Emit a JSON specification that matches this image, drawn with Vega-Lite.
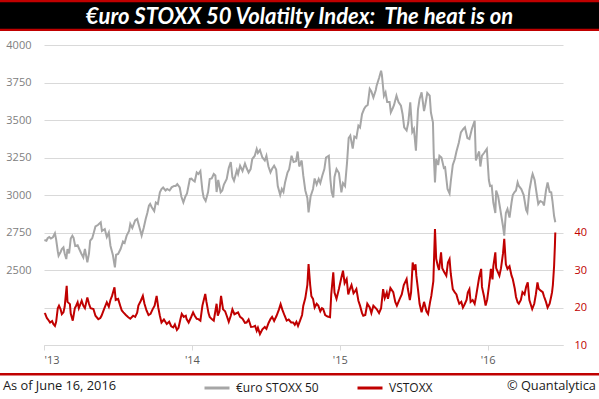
{
  "$schema": "https://vega.github.io/schema/vega-lite/v6.json",
  "padding": 0,
  "autosize": {"type": "pad"},
  "background": "white",
  "spacing": 8,
  "config": {"view": {"stroke": null}},
  "datasets": {
    "stoxx": [
      {"date":"2013-01-02","value":2700},{"date":"2013-01-07","value":2695},{"date":"2013-01-10","value":2712},{"date":"2013-01-14","value":2720},{"date":"2013-01-18","value":2710},{"date":"2013-01-23","value":2718},{"date":"2013-01-28","value":2745},{"date":"2013-01-31","value":2703},
      {"date":"2013-02-04","value":2625},{"date":"2013-02-06","value":2595},{"date":"2013-02-11","value":2620},{"date":"2013-02-14","value":2640},{"date":"2013-02-18","value":2651},{"date":"2013-02-21","value":2610},{"date":"2013-02-25","value":2573},{"date":"2013-02-28","value":2640},
      {"date":"2013-03-04","value":2610},{"date":"2013-03-08","value":2710},{"date":"2013-03-12","value":2729},{"date":"2013-03-15","value":2715},{"date":"2013-03-19","value":2660},{"date":"2013-03-25","value":2665},{"date":"2013-03-29","value":2640},
      {"date":"2013-04-03","value":2610},{"date":"2013-04-08","value":2584},{"date":"2013-04-12","value":2640},{"date":"2013-04-18","value":2551},{"date":"2013-04-22","value":2610},{"date":"2013-04-25","value":2695},{"date":"2013-04-30","value":2712},
      {"date":"2013-05-03","value":2740},{"date":"2013-05-08","value":2790},{"date":"2013-05-14","value":2800},{"date":"2013-05-21","value":2818},{"date":"2013-05-24","value":2760},{"date":"2013-05-31","value":2773},
      {"date":"2013-06-05","value":2720},{"date":"2013-06-10","value":2750},{"date":"2013-06-14","value":2662},{"date":"2013-06-20","value":2600},{"date":"2013-06-25","value":2518},{"date":"2013-06-28","value":2602},
      {"date":"2013-07-03","value":2607},{"date":"2013-07-09","value":2640},{"date":"2013-07-15","value":2690},{"date":"2013-07-19","value":2680},{"date":"2013-07-24","value":2729},{"date":"2013-07-30","value":2760},
      {"date":"2013-08-02","value":2807},{"date":"2013-08-07","value":2780},{"date":"2013-08-14","value":2830},{"date":"2013-08-19","value":2840},{"date":"2013-08-23","value":2800},{"date":"2013-08-28","value":2750},{"date":"2013-08-30","value":2729},
      {"date":"2013-09-04","value":2780},{"date":"2013-09-09","value":2840},{"date":"2013-09-13","value":2880},{"date":"2013-09-17","value":2929},{"date":"2013-09-20","value":2940},{"date":"2013-09-24","value":2918},{"date":"2013-09-30","value":2893},
      {"date":"2013-10-04","value":2950},{"date":"2013-10-09","value":2940},{"date":"2013-10-14","value":3018},{"date":"2013-10-18","value":3040},{"date":"2013-10-22","value":3050},{"date":"2013-10-28","value":3030},
      {"date":"2013-11-01","value":3040},{"date":"2013-11-07","value":3030},{"date":"2013-11-12","value":3051},{"date":"2013-11-18","value":3060},{"date":"2013-11-22","value":3060},{"date":"2013-11-26","value":3073},
      {"date":"2013-12-02","value":3050},{"date":"2013-12-06","value":2990},{"date":"2013-12-11","value":2951},{"date":"2013-12-16","value":2990},{"date":"2013-12-20","value":3010},{"date":"2013-12-27","value":3107},{"date":"2013-12-31","value":3109},
      {"date":"2014-01-03","value":3100},{"date":"2014-01-08","value":3090},{"date":"2014-01-13","value":3150},{"date":"2014-01-17","value":3140},{"date":"2014-01-22","value":3160},{"date":"2014-01-27","value":3030},{"date":"2014-01-30","value":2984},
      {"date":"2014-02-04","value":2960},{"date":"2014-02-10","value":3020},{"date":"2014-02-14","value":3107},{"date":"2014-02-19","value":3110},{"date":"2014-02-24","value":3140},{"date":"2014-02-28","value":3130},
      {"date":"2014-03-03","value":3020},{"date":"2014-03-07","value":3100},{"date":"2014-03-13","value":3018},{"date":"2014-03-17","value":3030},{"date":"2014-03-21","value":3070},{"date":"2014-03-28","value":3107},
      {"date":"2014-04-02","value":3180},{"date":"2014-04-07","value":3220},{"date":"2014-04-11","value":3120},{"date":"2014-04-15","value":3095},{"date":"2014-04-22","value":3165},{"date":"2014-04-25","value":3140},{"date":"2014-04-30","value":3195},
      {"date":"2014-05-06","value":3160},{"date":"2014-05-12","value":3210},{"date":"2014-05-16","value":3180},{"date":"2014-05-21","value":3150},{"date":"2014-05-26","value":3173},{"date":"2014-05-30","value":3240},
      {"date":"2014-06-05","value":3260},{"date":"2014-06-10","value":3307},{"date":"2014-06-13","value":3280},{"date":"2014-06-18","value":3300},{"date":"2014-06-24","value":3250},{"date":"2014-06-30","value":3230},
      {"date":"2014-07-04","value":3262},{"date":"2014-07-09","value":3190},{"date":"2014-07-14","value":3151},{"date":"2014-07-18","value":3175},{"date":"2014-07-23","value":3195},{"date":"2014-07-28","value":3170},
      {"date":"2014-08-01","value":3060},{"date":"2014-08-07","value":3000},{"date":"2014-08-11","value":3040},{"date":"2014-08-15","value":3020},{"date":"2014-08-19","value":3084},{"date":"2014-08-25","value":3150},{"date":"2014-08-29","value":3170},
      {"date":"2014-09-04","value":3262},{"date":"2014-09-09","value":3220},{"date":"2014-09-15","value":3225},{"date":"2014-09-19","value":3290},{"date":"2014-09-23","value":3190},{"date":"2014-09-29","value":3230},
      {"date":"2014-10-03","value":3129},{"date":"2014-10-08","value":3030},{"date":"2014-10-13","value":2980},{"date":"2014-10-16","value":2884},{"date":"2014-10-21","value":2990},{"date":"2014-10-27","value":3040},{"date":"2014-10-31","value":3110},
      {"date":"2014-11-05","value":3070},{"date":"2014-11-10","value":3107},{"date":"2014-11-14","value":3080},{"date":"2014-11-19","value":3130},{"date":"2014-11-24","value":3173},{"date":"2014-11-28","value":3250},
      {"date":"2014-12-05","value":3262},{"date":"2014-12-09","value":3100},{"date":"2014-12-12","value":3020},{"date":"2014-12-16","value":2984},{"date":"2014-12-19","value":3120},{"date":"2014-12-24","value":3173},{"date":"2014-12-30","value":3146},
      {"date":"2015-01-05","value":3018},{"date":"2015-01-09","value":3080},{"date":"2015-01-14","value":3060},{"date":"2015-01-19","value":3218},{"date":"2015-01-23","value":3380},{"date":"2015-01-27","value":3396},
      {"date":"2015-02-02","value":3310},{"date":"2015-02-06","value":3390},{"date":"2015-02-11","value":3380},{"date":"2015-02-16","value":3462},{"date":"2015-02-20","value":3450},{"date":"2015-02-25","value":3540},
      {"date":"2015-03-02","value":3573},{"date":"2015-03-06","value":3590},{"date":"2015-03-11","value":3600},{"date":"2015-03-16","value":3707},{"date":"2015-03-20","value":3690},{"date":"2015-03-25","value":3650},{"date":"2015-03-31","value":3700},
      {"date":"2015-04-02","value":3729},{"date":"2015-04-08","value":3780},{"date":"2015-04-13","value":3828},{"date":"2015-04-15","value":3800},{"date":"2015-04-20","value":3660},{"date":"2015-04-24","value":3684},{"date":"2015-04-28","value":3620},
      {"date":"2015-05-04","value":3620},{"date":"2015-05-07","value":3551},{"date":"2015-05-12","value":3580},{"date":"2015-05-15","value":3600},{"date":"2015-05-21","value":3662},{"date":"2015-05-26","value":3620},
      {"date":"2015-06-01","value":3595},{"date":"2015-06-05","value":3540},{"date":"2015-06-09","value":3451},{"date":"2015-06-15","value":3430},{"date":"2015-06-19","value":3480},{"date":"2015-06-24","value":3618},{"date":"2015-06-29","value":3420},
      {"date":"2015-07-03","value":3440},{"date":"2015-07-08","value":3296},{"date":"2015-07-13","value":3570},{"date":"2015-07-17","value":3640},{"date":"2015-07-22","value":3684},{"date":"2015-07-28","value":3560},{"date":"2015-07-31","value":3600},
      {"date":"2015-08-05","value":3680},{"date":"2015-08-11","value":3662},{"date":"2015-08-14","value":3550},{"date":"2015-08-19","value":3484},{"date":"2015-08-21","value":3270},{"date":"2015-08-24","value":3084},{"date":"2015-08-27","value":3240},
      {"date":"2015-09-01","value":3200},{"date":"2015-09-04","value":3262},{"date":"2015-09-09","value":3250},{"date":"2015-09-15","value":3180},{"date":"2015-09-18","value":3184},{"date":"2015-09-24","value":3040},{"date":"2015-09-29","value":3010},
      {"date":"2015-10-02","value":3090},{"date":"2015-10-07","value":3200},{"date":"2015-10-12","value":3240},{"date":"2015-10-16","value":3290},{"date":"2015-10-22","value":3350},{"date":"2015-10-27","value":3418},
      {"date":"2015-11-02","value":3440},{"date":"2015-11-06","value":3451},{"date":"2015-11-12","value":3380},{"date":"2015-11-17","value":3373},{"date":"2015-11-23","value":3440},{"date":"2015-11-30","value":3495},
      {"date":"2015-12-03","value":3230},{"date":"2015-12-08","value":3270},{"date":"2015-12-11","value":3290},{"date":"2015-12-14","value":3190},{"date":"2015-12-18","value":3262},{"date":"2015-12-23","value":3280},{"date":"2015-12-30","value":3307},
      {"date":"2016-01-04","value":3100},{"date":"2016-01-07","value":3060},{"date":"2016-01-11","value":3062},{"date":"2016-01-15","value":2950},{"date":"2016-01-20","value":2880},{"date":"2016-01-22","value":3029},{"date":"2016-01-27","value":2990},
      {"date":"2016-02-01","value":2907},{"date":"2016-02-05","value":2840},{"date":"2016-02-08","value":2790},{"date":"2016-02-11","value":2729},{"date":"2016-02-15","value":2880},{"date":"2016-02-19","value":2907},{"date":"2016-02-24","value":2850},{"date":"2016-02-29","value":2950},
      {"date":"2016-03-03","value":3000},{"date":"2016-03-07","value":3018},{"date":"2016-03-11","value":3030},{"date":"2016-03-15","value":3084},{"date":"2016-03-18","value":3060},{"date":"2016-03-24","value":3040},{"date":"2016-03-30","value":3000},
      {"date":"2016-04-05","value":2900},{"date":"2016-04-08","value":2884},{"date":"2016-04-13","value":3030},{"date":"2016-04-19","value":3120},{"date":"2016-04-21","value":3140},{"date":"2016-04-26","value":3100},
      {"date":"2016-05-02","value":2990},{"date":"2016-05-05","value":2940},{"date":"2016-05-10","value":2960},{"date":"2016-05-16","value":2951},{"date":"2016-05-19","value":2930},{"date":"2016-05-24","value":3030},{"date":"2016-05-28","value":3084},
      {"date":"2016-06-02","value":3020},{"date":"2016-06-06","value":3018},{"date":"2016-06-09","value":2960},{"date":"2016-06-13","value":2860},{"date":"2016-06-16","value":2818}
    ],
    "vstoxx": [
      {"date":"2013-01-02","value":18.5},{"date":"2013-01-04","value":18.3},{"date":"2013-01-08","value":17.2},{"date":"2013-01-11","value":16.8},{"date":"2013-01-16","value":16.0},{"date":"2013-01-21","value":16.4},{"date":"2013-01-24","value":15.6},{"date":"2013-01-28","value":15.1},{"date":"2013-01-31","value":16.2},
      {"date":"2013-02-04","value":19.8},{"date":"2013-02-07","value":20.5},{"date":"2013-02-11","value":19.5},{"date":"2013-02-14","value":18.2},{"date":"2013-02-18","value":18.7},{"date":"2013-02-21","value":20.2},{"date":"2013-02-26","value":25.8},{"date":"2013-02-28","value":21.5},
      {"date":"2013-03-06","value":20.9},{"date":"2013-03-08","value":18.4},{"date":"2013-03-13","value":16.5},{"date":"2013-03-18","value":19.8},{"date":"2013-03-21","value":20.4},{"date":"2013-03-25","value":21.4},{"date":"2013-03-28","value":19.8},
      {"date":"2013-04-04","value":21.8},{"date":"2013-04-08","value":20.5},{"date":"2013-04-12","value":19.8},{"date":"2013-04-18","value":22.7},{"date":"2013-04-22","value":21.0},{"date":"2013-04-26","value":19.8},
      {"date":"2013-05-03","value":19.6},{"date":"2013-05-08","value":17.8},{"date":"2013-05-15","value":16.9},{"date":"2013-05-20","value":17.2},{"date":"2013-05-23","value":17.8},{"date":"2013-05-29","value":19.5},
      {"date":"2013-06-05","value":21.4},{"date":"2013-06-10","value":20.2},{"date":"2013-06-14","value":22.0},{"date":"2013-06-18","value":23.1},{"date":"2013-06-24","value":25.4},{"date":"2013-06-27","value":22.0},
      {"date":"2013-07-03","value":22.3},{"date":"2013-07-08","value":20.5},{"date":"2013-07-12","value":19.2},{"date":"2013-07-16","value":18.7},{"date":"2013-07-22","value":18.0},{"date":"2013-07-28","value":17.4},
      {"date":"2013-08-02","value":17.0},{"date":"2013-08-09","value":17.8},{"date":"2013-08-14","value":17.5},{"date":"2013-08-19","value":18.6},{"date":"2013-08-22","value":20.5},{"date":"2013-08-28","value":21.8},
      {"date":"2013-09-02","value":23.1},{"date":"2013-09-06","value":21.0},{"date":"2013-09-11","value":19.2},{"date":"2013-09-16","value":18.0},{"date":"2013-09-21","value":18.3},{"date":"2013-09-26","value":19.5},
      {"date":"2013-10-01","value":20.5},{"date":"2013-10-06","value":23.1},{"date":"2013-10-10","value":20.0},{"date":"2013-10-14","value":17.8},{"date":"2013-10-18","value":16.0},{"date":"2013-10-24","value":16.8},{"date":"2013-10-31","value":15.6},
      {"date":"2013-11-06","value":16.2},{"date":"2013-11-11","value":15.0},{"date":"2013-11-16","value":14.7},{"date":"2013-11-20","value":15.5},{"date":"2013-11-25","value":14.0},{"date":"2013-11-29","value":14.6},
      {"date":"2013-12-04","value":17.0},{"date":"2013-12-07","value":18.3},{"date":"2013-12-12","value":17.5},{"date":"2013-12-17","value":17.8},{"date":"2013-12-19","value":16.9},{"date":"2013-12-24","value":16.0},{"date":"2013-12-30","value":17.4},
      {"date":"2014-01-04","value":18.7},{"date":"2014-01-08","value":17.8},{"date":"2014-01-13","value":17.0},{"date":"2014-01-17","value":16.9},{"date":"2014-01-22","value":16.5},{"date":"2014-01-27","value":20.5},
      {"date":"2014-02-03","value":23.6},{"date":"2014-02-06","value":21.5},{"date":"2014-02-11","value":18.5},{"date":"2014-02-14","value":17.5},{"date":"2014-02-19","value":16.9},{"date":"2014-02-24","value":16.5},
      {"date":"2014-03-03","value":21.0},{"date":"2014-03-06","value":17.8},{"date":"2014-03-10","value":19.0},{"date":"2014-03-14","value":23.1},{"date":"2014-03-19","value":19.5},{"date":"2014-03-24","value":19.0},{"date":"2014-03-28","value":17.8},
      {"date":"2014-04-02","value":16.2},{"date":"2014-04-07","value":17.8},{"date":"2014-04-11","value":19.5},{"date":"2014-04-16","value":18.2},{"date":"2014-04-25","value":18.7},{"date":"2014-04-30","value":17.5},
      {"date":"2014-05-06","value":17.0},{"date":"2014-05-12","value":15.9},{"date":"2014-05-16","value":16.0},{"date":"2014-05-21","value":16.8},{"date":"2014-05-27","value":14.8},
      {"date":"2014-06-02","value":14.9},{"date":"2014-06-06","value":15.1},{"date":"2014-06-10","value":13.8},{"date":"2014-06-13","value":14.6},{"date":"2014-06-18","value":12.9},{"date":"2014-06-24","value":14.2},{"date":"2014-06-30","value":14.8},
      {"date":"2014-07-04","value":14.3},{"date":"2014-07-09","value":15.8},{"date":"2014-07-14","value":16.9},{"date":"2014-07-18","value":17.5},{"date":"2014-07-23","value":16.4},{"date":"2014-07-29","value":17.8},
      {"date":"2014-08-04","value":19.5},{"date":"2014-08-08","value":20.9},{"date":"2014-08-12","value":19.5},{"date":"2014-08-18","value":17.8},{"date":"2014-08-23","value":16.5},{"date":"2014-08-28","value":16.8},
      {"date":"2014-09-03","value":16.0},{"date":"2014-09-08","value":16.0},{"date":"2014-09-12","value":15.4},{"date":"2014-09-16","value":16.2},{"date":"2014-09-20","value":15.1},{"date":"2014-09-25","value":16.5},{"date":"2014-09-30","value":18.0},
      {"date":"2014-10-03","value":20.5},{"date":"2014-10-08","value":22.5},{"date":"2014-10-13","value":26.0},{"date":"2014-10-16","value":31.6},{"date":"2014-10-20","value":26.0},{"date":"2014-10-23","value":23.0},{"date":"2014-10-27","value":22.3},{"date":"2014-10-31","value":20.0},
      {"date":"2014-11-05","value":21.0},{"date":"2014-11-09","value":20.5},{"date":"2014-11-14","value":19.0},{"date":"2014-11-18","value":19.8},{"date":"2014-11-21","value":19.6},{"date":"2014-11-26","value":18.0},
      {"date":"2014-12-02","value":17.6},{"date":"2014-12-08","value":17.4},{"date":"2014-12-11","value":23.5},{"date":"2014-12-16","value":29.4},{"date":"2014-12-19","value":24.0},{"date":"2014-12-24","value":22.3},{"date":"2014-12-30","value":25.0},
      {"date":"2015-01-05","value":28.0},{"date":"2015-01-09","value":29.8},{"date":"2015-01-13","value":26.5},{"date":"2015-01-18","value":27.6},{"date":"2015-01-22","value":23.5},{"date":"2015-01-26","value":24.9},{"date":"2015-01-30","value":26.0},
      {"date":"2015-02-04","value":23.8},{"date":"2015-02-07","value":24.2},{"date":"2015-02-11","value":24.9},{"date":"2015-02-16","value":21.8},{"date":"2015-02-20","value":20.5},{"date":"2015-02-25","value":18.5},{"date":"2015-02-28","value":17.8},
      {"date":"2015-03-05","value":18.0},{"date":"2015-03-10","value":21.0},{"date":"2015-03-16","value":20.0},{"date":"2015-03-20","value":18.5},{"date":"2015-03-25","value":20.5},
      {"date":"2015-04-02","value":19.6},{"date":"2015-04-08","value":18.5},{"date":"2015-04-13","value":19.8},{"date":"2015-04-18","value":24.9},{"date":"2015-04-22","value":22.5},{"date":"2015-04-27","value":24.0},{"date":"2015-04-30","value":22.3},
      {"date":"2015-05-06","value":25.2},{"date":"2015-05-13","value":24.1},{"date":"2015-05-18","value":21.5},{"date":"2015-05-22","value":20.5},{"date":"2015-05-29","value":22.3},
      {"date":"2015-06-03","value":23.5},{"date":"2015-06-08","value":26.0},{"date":"2015-06-15","value":27.6},{"date":"2015-06-18","value":25.0},{"date":"2015-06-23","value":22.0},{"date":"2015-06-26","value":24.0},{"date":"2015-06-30","value":32.0},
      {"date":"2015-07-03","value":30.0},{"date":"2015-07-07","value":31.5},{"date":"2015-07-09","value":28.5},{"date":"2015-07-13","value":24.9},{"date":"2015-07-17","value":21.0},{"date":"2015-07-22","value":18.7},{"date":"2015-07-28","value":21.5},
      {"date":"2015-08-03","value":19.0},{"date":"2015-08-07","value":18.3},{"date":"2015-08-12","value":21.5},{"date":"2015-08-15","value":23.1},{"date":"2015-08-20","value":27.0},{"date":"2015-08-24","value":40.9},{"date":"2015-08-27","value":33.0},{"date":"2015-08-31","value":31.1},
      {"date":"2015-09-03","value":30.0},{"date":"2015-09-08","value":34.7},{"date":"2015-09-11","value":30.5},{"date":"2015-09-16","value":29.4},{"date":"2015-09-21","value":28.5},{"date":"2015-09-25","value":32.0},{"date":"2015-09-29","value":32.9},
      {"date":"2015-10-02","value":29.0},{"date":"2015-10-07","value":24.9},{"date":"2015-10-12","value":24.0},{"date":"2015-10-16","value":23.5},{"date":"2015-10-19","value":22.3},{"date":"2015-10-23","value":21.0},{"date":"2015-10-28","value":21.5},
      {"date":"2015-11-01","value":20.0},{"date":"2015-11-05","value":20.8},{"date":"2015-11-10","value":22.0},{"date":"2015-11-13","value":24.0},{"date":"2015-11-17","value":24.9},{"date":"2015-11-20","value":21.5},{"date":"2015-11-25","value":22.0},{"date":"2015-11-30","value":21.0},
      {"date":"2015-12-03","value":22.7},{"date":"2015-12-08","value":26.0},{"date":"2015-12-11","value":28.0},{"date":"2015-12-16","value":30.3},{"date":"2015-12-18","value":25.5},{"date":"2015-12-23","value":23.0},{"date":"2015-12-27","value":20.5},{"date":"2015-12-31","value":22.2},
      {"date":"2016-01-04","value":25.5},{"date":"2016-01-07","value":28.0},{"date":"2016-01-09","value":30.3},{"date":"2016-01-13","value":27.5},{"date":"2016-01-15","value":31.0},{"date":"2016-01-20","value":34.7},{"date":"2016-01-22","value":30.5},{"date":"2016-01-26","value":29.5},{"date":"2016-01-30","value":28.5},
      {"date":"2016-02-03","value":30.5},{"date":"2016-02-08","value":34.5},{"date":"2016-02-11","value":38.3},{"date":"2016-02-15","value":31.5},{"date":"2016-02-19","value":30.3},{"date":"2016-02-24","value":31.0},{"date":"2016-02-29","value":28.5},
      {"date":"2016-03-03","value":27.6},{"date":"2016-03-08","value":25.0},{"date":"2016-03-11","value":22.8},{"date":"2016-03-15","value":21.4},{"date":"2016-03-18","value":21.0},{"date":"2016-03-23","value":22.0},{"date":"2016-03-27","value":24.1},
      {"date":"2016-04-01","value":23.5},{"date":"2016-04-05","value":25.5},{"date":"2016-04-09","value":26.7},{"date":"2016-04-13","value":22.0},{"date":"2016-04-20","value":19.6},{"date":"2016-04-25","value":21.0},{"date":"2016-04-29","value":23.5},
      {"date":"2016-05-03","value":26.7},{"date":"2016-05-06","value":25.0},{"date":"2016-05-11","value":24.5},{"date":"2016-05-16","value":24.1},{"date":"2016-05-19","value":23.0},{"date":"2016-05-24","value":21.5},{"date":"2016-05-28","value":20.0},
      {"date":"2016-06-02","value":21.0},{"date":"2016-06-06","value":23.0},{"date":"2016-06-08","value":24.1},{"date":"2016-06-10","value":26.0},{"date":"2016-06-13","value":31.0},{"date":"2016-06-15","value":36.5},{"date":"2016-06-16","value":40.0}
    ]
  },
  "vconcat": [
    {
      "width": 599,
      "height": 31,
      "view": {"fill": "#c00000", "stroke": null},
      "layer": [
        {
          "data": {"values": [{}]},
          "mark": {"type": "rect", "color": "black"},
          "encoding": {
            "y": {"datum": 0.93, "type": "quantitative", "scale": {"domain": [0, 1], "nice": false}, "axis": null},
            "y2": {"datum": 0.07}
          }
        },
        {
          "data": {"values": [{"t": "€uro STOXX 50 Volatilty Index:\u00a0 The heat is on"}]},
          "mark": {"type": "text", "color": "white", "font": "Lato", "fontSize": 22, "fontWeight": "bold", "fontStyle": "italic", "baseline": "middle", "align": "center", "dy": 1},
          "encoding": {"text": {"field": "t"}}
        }
      ]
    },
    {
      "spacing": 0,
      "hconcat": [
        {
          "width": 1,
          "height": 1,
          "data": {"values": []},
          "mark": "rule",
          "encoding": {}
        },
        {
          "width": 519,
          "height": 300,
          "encoding": {
            "x": {
              "field": "date",
              "type": "temporal",
              "scale": {"domain": [{"year": 2013, "month": 1, "date": 1}, {"year": 2016, "month": 7, "date": 5}]},
              "axis": {
                "title": null,
                "values": [{"year": 2013, "month": 1, "date": 1}, {"year": 2014, "month": 1, "date": 1}, {"year": 2015, "month": 1, "date": 1}, {"year": 2016, "month": 1, "date": 1}],
                "format": "'%y",
                "grid": false,
                "domainColor": "#d9d9d9",
                "tickColor": "#d9d9d9",
                "tickSize": 5,
                "labelPadding": 4,
                "labelColor": "#595959",
                "labelFont": "Open Sans",
                "labelFontSize": 11
              }
            }
          },
          "layer": [
            {
              "data": {"name": "stoxx"},
              "mark": {"type": "line", "color": "#a6a6a6", "strokeWidth": 2},
              "encoding": {
                "y": {
                  "field": "value",
                  "type": "quantitative",
                  "scale": {"domain": [2000, 4000], "nice": false, "zero": false},
                  "axis": {
                    "orient": "left",
                    "title": null,
                    "values": [2000, 2250, 2500, 2750, 3000, 3250, 3500, 3750, 4000],
                    "labelExpr": "datum.value >= 2500 ? datum.label : ''",
                    "format": "d",
                    "grid": true,
                    "gridColor": "#d9d9d9",
                    "ticks": false,
                    "domain": false,
                    "labelPadding": 13,
                    "minExtent": 43,
                    "maxExtent": 43,
                    "labelColor": "#808080",
                    "labelFont": "Open Sans",
                    "labelFontSize": 11
                  }
                }
              }
            },
            {
              "data": {"name": "vstoxx"},
              "mark": {"type": "line", "color": "#c00000", "strokeWidth": 2},
              "encoding": {
                "y": {
                  "field": "value",
                  "type": "quantitative",
                  "scale": {"domain": [10, 90], "nice": false, "zero": false},
                  "axis": {
                    "orient": "right",
                    "title": null,
                    "values": [10, 20, 30, 40],
                    "grid": false,
                    "ticks": false,
                    "domain": false,
                    "labelPadding": 11,
                    "labelColor": "#c00000",
                    "labelFont": "Open Sans",
                    "labelFontSize": 11
                  }
                }
              }
            }
          ],
          "resolve": {"scale": {"y": "independent"}}
        }
      ]
    },
    {
      "width": 599,
      "height": 24,
      "view": {"stroke": null},
      "layer": [
        {
          "data": {"values": [{}]},
          "mark": {"type": "rect", "color": "#c00000"},
          "encoding": {
            "y": {"datum": 1, "type": "quantitative", "scale": {"domain": [0, 1], "nice": false}, "axis": null},
            "y2": {"datum": 0.9}
          }
        },
        {
          "data": {"values": [{"note": "As of June 16, 2016"}]},
          "mark": {"type": "text", "align": "left", "baseline": "middle", "dx": 3, "dy": 1, "font": "Open Sans", "fontSize": 12.8, "color": "#1a1a1a"},
          "encoding": {
            "x": {"datum": 0, "type": "quantitative", "scale": {"domain": [0, 1], "nice": false}, "axis": null},
            "text": {"field": "note"}
          }
        },
        {
          "data": {"values": [{"note": "© Quantalytica"}]},
          "mark": {"type": "text", "align": "right", "baseline": "middle", "dx": -3, "dy": 1, "font": "Open Sans", "fontSize": 12.8, "color": "#1a1a1a"},
          "encoding": {
            "x": {"datum": 1, "type": "quantitative"},
            "text": {"field": "note"}
          }
        },
        {
          "data": {"values": [{"series": "€uro STOXX 50"}, {"series": "VSTOXX"}]},
          "mark": {"type": "line", "strokeWidth": 3},
          "encoding": {
            "color": {
              "field": "series",
              "type": "nominal",
              "scale": {"domain": ["€uro STOXX 50", "VSTOXX"], "range": ["#a6a6a6", "#c00000"]},
              "legend": {
                "orient": "none",
                "legendX": 203,
                "legendY": 374,
                "direction": "horizontal",
                "title": null,
                "padding": 0,
                "symbolType": "stroke",
                "symbolSize": 625,
                "symbolStrokeWidth": 3,
                "labelOffset": 5,
                "columnPadding": 32,
                "labelFont": "Open Sans",
                "labelFontSize": 12,
                "labelColor": "#1a1a1a"
              }
            }
          }
        }
      ]
    }
  ]
}
